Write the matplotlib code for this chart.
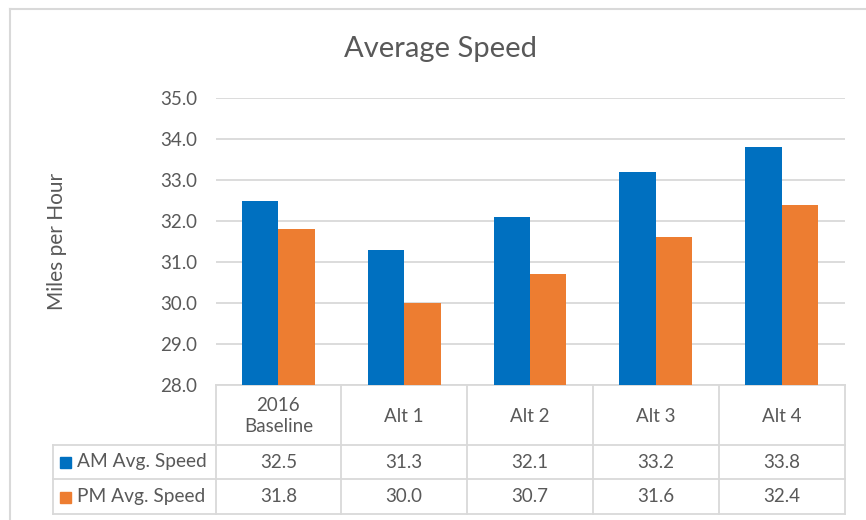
import numpy as np
import matplotlib
matplotlib.use('Agg')
from matplotlib import pyplot as plt

# Дані графіка
categories = ['2016\nBaseline', 'Alt 1', 'Alt 2', 'Alt 3', 'Alt 4']
series_names = ['AM Avg. Speed', 'PM Avg. Speed']
am_speed = [32.5, 31.3, 32.1, 33.2, 33.8]
pm_speed = [31.8, 30.0, 30.7, 31.6, 32.4]
y_ticks = [28.0, 29.0, 30.0, 31.0, 32.0, 33.0, 34.0, 35.0]

plt.rcParams['font.family'] = ['Lato', 'DejaVu Sans']

W, H = 866, 520
blue = '#0070C0'
orange = '#ED7D31'
text_col = '#595959'
grid_col = '#D9D9D9'

fig = plt.figure(figsize=(W / 100, H / 100), dpi=100)

# Шар для рамки і таблиці в піксельних координатах
ov = fig.add_axes([0, 0, 1, 1], zorder=0)
ov.set_xlim(0, W)
ov.set_ylim(H, 0)
ov.axis('off')

# Основна область графіка (в пікселях)
ax_l, ax_r, ax_t, ax_b = 215.5, 844.5, 98, 385
ax = fig.add_axes([ax_l / W, (H - ax_b) / H, (ax_r - ax_l) / W, (ax_b - ax_t) / H], zorder=1)
ax.patch.set_alpha(0)

x = np.arange(len(categories))
bw = 0.289
ax.bar(x - bw / 2, [v - y_ticks[0] for v in am_speed], bw, bottom=y_ticks[0], color=blue, zorder=2)
ax.bar(x + bw / 2, [v - y_ticks[0] for v in pm_speed], bw, bottom=y_ticks[0], color=orange, zorder=2)

ax.set_xlim(-0.5, len(categories) - 0.5)
ax.set_ylim(y_ticks[0], y_ticks[-1])
ax.set_yticks(y_ticks)
ax.set_yticklabels([f'{t:.1f}' for t in y_ticks])
ax.set_xticks([])
ax.tick_params(axis='y', length=0, pad=13, labelsize=13.5, labelcolor=text_col)
ax.yaxis.grid(True, color=grid_col, linewidth=1.3, zorder=0)
for s in ax.spines.values():
    s.set_visible(False)

# Заголовок і підпис осі
fig.text(441 / W, 1 - 49 / H, 'Average Speed', ha='center', va='center', fontsize=21, color=text_col)
fig.text(57 / W, 1 - 241 / H, 'Miles per Hour', ha='center', va='center', rotation=90, fontsize=15, color=text_col)

# Зовнішня рамка
ov.plot([10, 10], [9, H], color=grid_col, lw=1.5)
ov.plot([10, W], [9, 9], color=grid_col, lw=1.5)

# Таблиця даних під графіком
n = len(categories)
col_w = (ax_r - ax_l) / n
tab_l = 53
rows_y = [ax_b, 445, 479, 514]
lc = dict(color=grid_col, lw=1.3)
for i in range(n + 1):
    xx = ax_l + i * col_w
    ov.plot([xx, xx], [rows_y[0], rows_y[-1]], **lc)
ov.plot([ax_l, ax_r], [rows_y[0], rows_y[0]], **lc)
for yy in rows_y[1:]:
    ov.plot([tab_l, ax_r], [yy, yy], **lc)
ov.plot([tab_l, tab_l], [rows_y[1], rows_y[-1]], **lc)

for i, cat in enumerate(categories):
    cx = ax_l + (i + 0.5) * col_w
    ov.text(cx, (rows_y[0] + rows_y[1]) / 2 + 1, cat, ha='center', va='center',
            fontsize=13.5, color=text_col, linespacing=1.25)
    ov.text(cx, (rows_y[1] + rows_y[2]) / 2, f'{am_speed[i]:.1f}', ha='center', va='center',
            fontsize=13.5, color=text_col)
    ov.text(cx, (rows_y[2] + rows_y[3]) / 2, f'{pm_speed[i]:.1f}', ha='center', va='center',
            fontsize=13.5, color=text_col)

# Легенда в лівій колонці таблиці
for r, (name, col) in enumerate(zip(series_names, [blue, orange])):
    cy = (rows_y[r + 1] + rows_y[r + 2]) / 2
    ov.add_patch(plt.Rectangle((60, cy - 5), 11, 11, color=col))
    ov.text(77, cy, name, ha='left', va='center', fontsize=13.8, color=text_col)

fig.savefig('out.png', dpi=100)
